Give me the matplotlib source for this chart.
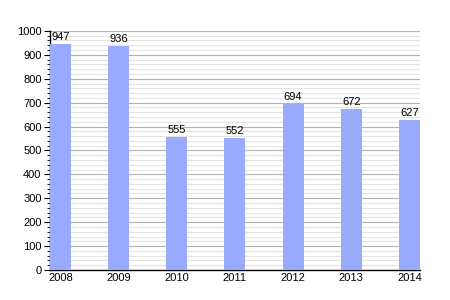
import matplotlib
matplotlib.use("Agg")
import matplotlib.pyplot as plt
from matplotlib.ticker import MultipleLocator

years = ["2008", "2009", "2010", "2011", "2012", "2013", "2014"]
values = [947, 936, 555, 552, 694, 672, 627]

plt.rcParams['font.family'] = ['Liberation Sans', 'DejaVu Sans']

fig = plt.figure(figsize=(4.5, 3), dpi=100)
ax = fig.add_axes([0.111, 0.1, 0.822, 0.797])

w = 0.36
xs = range(len(years))
ax.bar(xs, values, width=w, color="#99aaff", zorder=3)
for x, v in zip(xs, values):
    ax.text(x, v + 8, str(v), ha="center", va="bottom", fontsize=8, zorder=4)

ax.set_xlim(-w / 2, len(years) - 1 + w / 2)
ax.set_ylim(0, 1000)
ax.set_xticks(list(xs))
ax.set_xticklabels(years)
ax.yaxis.set_major_locator(MultipleLocator(100))
ax.yaxis.set_minor_locator(MultipleLocator(20))
ax.grid(axis="y", which="major", color="#b4b4b4", linewidth=0.8, zorder=0)
ax.grid(axis="y", which="minor", color="#e4e4e4", linewidth=0.8, zorder=0)
ax.set_axisbelow(True)

ax.spines["top"].set_visible(False)
ax.spines["right"].set_visible(False)
ax.spines["left"].set_linewidth(1)
ax.spines["bottom"].set_linewidth(1)
ax.tick_params(axis="y", which="major", length=4, labelsize=8, pad=2)
ax.tick_params(axis="y", which="minor", length=2)
ax.tick_params(axis="x", length=0, labelsize=8, pad=2)

fig.savefig("out.png", dpi=100)
